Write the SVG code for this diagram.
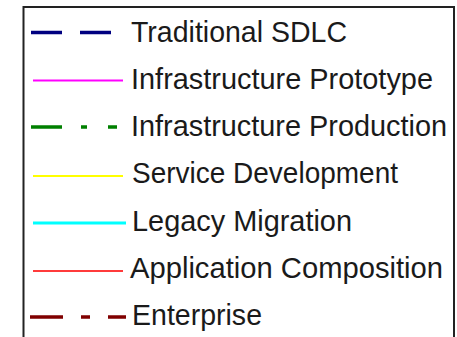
<svg xmlns="http://www.w3.org/2000/svg" width="457" height="337" viewBox="0 0 457 337">
<style>
.lbl{font-family:"Liberation Sans",Arial,sans-serif;font-size:29.5px;fill:#1a1a1a}
.sw{fill:none}
</style>
<rect width="457" height="337" fill="#ffffff"/>
<g id="legend-frame">
<path d="M23.5,345 V7 H454 V345" fill="none" stroke="#222" stroke-width="2"/>
</g>
<g id="connectors">
<line class="sw" x1="31" y1="32.5" x2="112" y2="32.5" stroke="#000080" stroke-width="3.5" stroke-dasharray="31 18"/>
<line class="sw" x1="33" y1="80.5" x2="123" y2="80.5" stroke="#ff00ff" stroke-width="1.8"/>
<line class="sw" x1="31" y1="127" x2="117" y2="127" stroke="#008000" stroke-width="3.5" stroke-dasharray="31 19 6 21 9"/>
<line class="sw" x1="33" y1="176" x2="123" y2="176" stroke="#ffff00" stroke-width="1.8"/>
<line class="sw" x1="33" y1="223" x2="126" y2="223" stroke="#00ffff" stroke-width="3"/>
<line class="sw" x1="33" y1="271" x2="123" y2="271" stroke="#ff3b3b" stroke-width="1.8"/>
<line class="sw" x1="30" y1="317" x2="126" y2="317" stroke="#800000" stroke-width="3.5" stroke-dasharray="33 18 9 18 18"/>
</g>
<g id="item-traditional-sdlc"><text class="lbl" x="131" y="42" textLength="216" lengthAdjust="spacingAndGlyphs">Traditional SDLC</text></g>
<g id="item-infrastructure-prototype"><text class="lbl" x="131" y="88.5" textLength="302" lengthAdjust="spacingAndGlyphs">Infrastructure Prototype</text></g>
<g id="item-infrastructure-production"><text class="lbl" x="131" y="136" font-size="28.5" textLength="316" lengthAdjust="spacingAndGlyphs">Infrastructure Production</text></g>
<g id="item-service-development"><text class="lbl" x="132" y="183" textLength="266" lengthAdjust="spacingAndGlyphs">Service Development</text></g>
<g id="item-legacy-migration"><text class="lbl" x="132" y="231" textLength="220" lengthAdjust="spacingAndGlyphs">Legacy Migration</text></g>
<g id="item-application-composition"><text class="lbl" x="130" y="278" textLength="313" lengthAdjust="spacingAndGlyphs">Application Composition</text></g>
<g id="item-enterprise"><text class="lbl" x="132" y="325" textLength="130" lengthAdjust="spacingAndGlyphs">Enterprise</text></g>
</svg>
